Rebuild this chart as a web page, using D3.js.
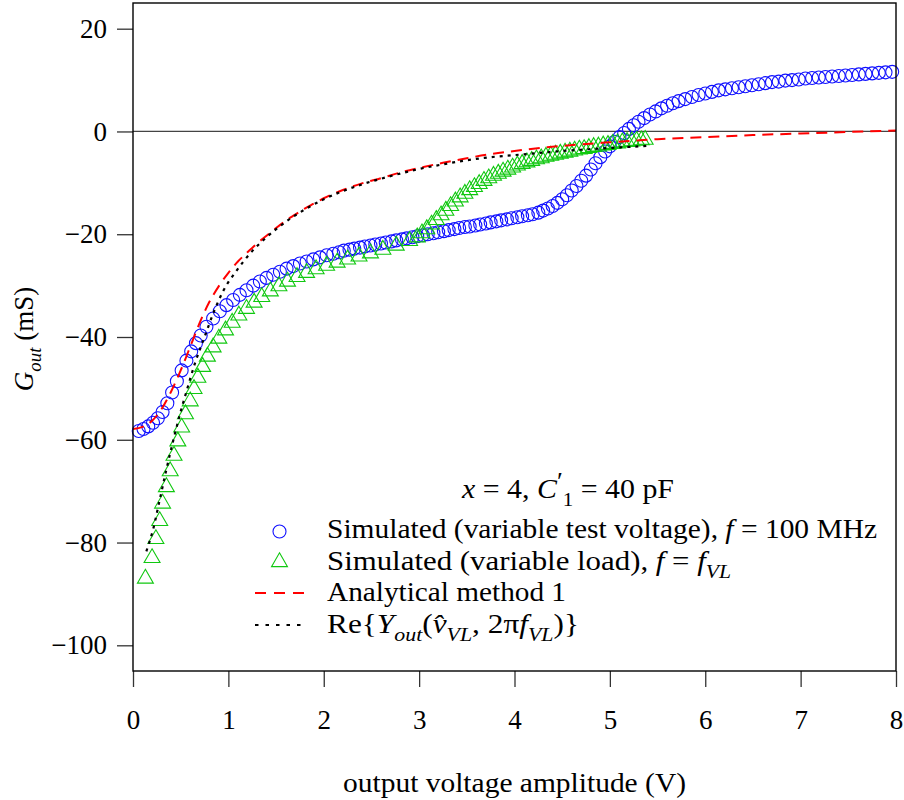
<!DOCTYPE html>
<html>
<head>
<meta charset="utf-8">
<script src="https://cdn.jsdelivr.net/npm/d3@7"></script>
<style>
  body { margin: 0; background: #fff; }
  text { font-family: "Liberation Serif", "DejaVu Serif", serif; fill: #000; }
</style>
</head>
<body>
<svg id="chart" width="904" height="800"></svg>
<script>
// DATA
// simulated, variable test voltage, f = 100 MHz
const blueV = [0.06,0.11,0.16,0.21,0.26,0.31,0.36,0.41,0.46,0.51,0.56,0.61,0.66,0.71,
  0.77,0.84,0.91,0.98,1.05,1.12,1.19,1.26,1.33,1.40,1.47,1.54,1.61,1.68,1.75,1.82,1.89,1.96,2.03,2.10,
  2.16,2.21,2.27,2.32,2.38,2.43,2.49,2.54,2.60,2.65,2.71,2.76,2.82,2.87,2.93,2.98,3.04,3.09,3.15,3.20,
  3.26,3.31,3.37,3.42,3.48,3.53,3.59,3.64,3.70,3.75,3.81,3.86,3.92,3.97,4.03,4.08,4.14,4.19,
  4.25,4.30,4.35,4.40,4.45,4.50,4.55,4.60,4.65,4.70,4.75,4.80,4.85,4.90,4.95,5.00,5.05,5.10,5.15,5.20,
  5.25,5.30,5.36,5.42,5.48,5.54,5.60,5.66,5.72,5.79,5.86,5.93,6.00,6.07,6.14,6.21,6.28,6.35,6.42,6.49,
  6.56,6.63,6.70,6.77,6.84,6.91,6.98,7.05,7.12,7.19,7.26,7.33,7.40,7.47,7.54,7.61,7.68,7.75,7.82,7.89,7.96];
const blueG = [-58.3,-57.9,-57.4,-56.7,-55.8,-54.6,-52.9,-50.8,-48.6,-46.5,-44.6,-42.8,-41.2,-39.7,
  -38.0,-36.4,-35.0,-33.8,-32.8,-31.8,-30.9,-30.0,-29.2,-28.5,-27.9,-27.3,-26.7,-26.2,-25.7,-25.3,-24.9,-24.5,-24.1,-23.8,
  -23.5,-23.2,-23.0,-22.8,-22.6,-22.4,-22.2,-22.0,-21.8,-21.6,-21.4,-21.2,-21.0,-20.8,-20.6,-20.4,-20.2,-20.0,-19.8,-19.6,
  -19.4,-19.2,-19.0,-18.8,-18.6,-18.5,-18.3,-18.1,-17.9,-17.7,-17.5,-17.3,-17.1,-16.9,-16.7,-16.5,-16.3,-16.1,
  -15.8,-15.4,-15.0,-14.5,-13.9,-13.2,-12.4,-11.5,-10.6,-9.6,-8.6,-7.4,-6.2,-5.0,-3.9,-2.9,-2.0,-1.1,-0.3,0.5,
  1.2,1.9,2.6,3.3,3.9,4.5,5.0,5.5,5.9,6.3,6.7,7.1,7.4,7.7,8.0,8.2,8.4,8.6,8.8,9.0,
  9.2,9.4,9.6,9.7,9.9,10.0,10.1,10.3,10.4,10.5,10.6,10.7,10.8,10.9,11.0,11.1,11.2,11.3,11.4,11.5,11.6];

// simulated, variable load, f = f_VL
const greenV = [0.13,0.20,0.24,0.28,0.31,0.35,0.39,0.43,0.47,0.51,0.55,0.60,0.64,0.68,0.73,0.78,0.84,0.90,0.97,
  1.04,1.11,1.19,1.27,1.35,1.44,1.53,1.62,1.72,1.82,1.92,2.03,2.14,2.25,2.37,2.49,2.62,2.76,2.90,
  2.98,3.03,3.08,3.13,3.18,3.23,3.28,3.33,3.38,3.43,3.48,3.53,3.58,3.63,3.68,3.73,3.78,3.83,3.88,3.93,3.98,
  4.03,4.08,4.13,4.18,4.23,4.28,4.33,4.38,4.43,4.48,4.53,4.58,4.63,4.68,4.73,4.78,4.83,4.88,4.93,4.98,
  5.03,5.08,5.13,5.18,5.23,5.28,5.33,5.37];
const greenG = [-87.0,-83.0,-79.3,-75.8,-72.4,-69.2,-66.1,-63.1,-60.3,-57.6,-55.0,-52.5,-50.1,-47.9,-45.8,-43.8,-42.0,-40.3,-38.7,
  -37.2,-35.8,-34.5,-33.3,-32.2,-31.1,-30.1,-29.2,-28.3,-27.5,-26.8,-26.1,-25.5,-24.9,-24.3,-23.7,-23.0,-22.2,-21.3,
  -20.6,-19.8,-19.0,-18.1,-17.2,-16.3,-15.4,-14.5,-13.6,-12.8,-12.1,-11.4,-10.8,-10.2,-9.6,-9.1,-8.6,-8.2,-7.8,-7.4,-7.0,
  -6.6,-6.3,-6.0,-5.7,-5.4,-5.2,-4.9,-4.7,-4.5,-4.3,-4.1,-3.9,-3.7,-3.5,-3.4,-3.2,-3.0,-2.9,-2.7,-2.6,
  -2.4,-2.3,-2.1,-2.0,-1.9,-1.8,-1.7,-1.6];

// analytical method 1
const redV = [0.00,0.10,0.20,0.30,0.40,0.50,0.60,0.70,0.80,0.90,1.00,1.10,1.20,1.30,1.40,1.50,1.60,1.70,1.80,1.90,
  2.00,2.20,2.40,2.60,2.80,3.00,3.25,3.50,3.75,4.00,4.50,5.00,5.50,6.00,6.50,7.00,7.50,8.00];
const redG = [-57.9,-57.5,-56.3,-54.0,-50.6,-46.5,-41.9,-37.2,-33.2,-30.1,-27.5,-25.3,-23.5,-21.8,-20.3,-18.8,-17.4,-16.2,-15.0,-14.0,
  -13.0,-11.4,-10.1,-9.1,-8.0,-7.1,-6.1,-5.2,-4.4,-3.8,-2.8,-2.1,-1.5,-1.1,-0.7,-0.4,-0.1,0.2];

// Re{Y_out(v_VL, 2 pi f_VL)}
const blackV = [0.14,0.21,0.28,0.35,0.42,0.49,0.57,0.65,0.75,0.85,0.95,1.09,1.23,1.40,1.60,1.80,2.00,2.20,2.40,2.60,
  2.80,3.00,3.25,3.50,3.75,4.00,4.25,4.50,4.75,5.00,5.20,5.40];
const blackG = [-81.7,-77.5,-71.7,-65.8,-60.3,-55.2,-50.0,-45.1,-40.0,-35.0,-30.9,-27.0,-23.7,-20.6,-17.6,-15.2,-13.2,-11.6,-10.3,-9.2,
  -8.2,-7.3,-6.4,-5.6,-5.0,-4.6,-4.2,-3.8,-3.5,-3.2,-3.0,-2.8];

const xTicks = [0,1,2,3,4,5,6,7,8];
const yTicks = [20,0,-20,-40,-60,-80,-100];

// UTILS
const zip = (a, b) => a.map((v, i) => [v, b[i]]);
const FS = 27;

// add text made of plain / italic / sub / sup parts
function rich(sel, parts) {
  let shift = 0;
  parts.forEach(p => {
    const ts = sel.append("tspan").text(p.t);
    const target = p.sub ? FS * 0.3 : p.sup ? -FS * 0.3 : 0;
    if (target !== shift) { ts.attr("dy", target - shift); shift = target; }
    if (p.dx) ts.attr("dx", p.dx);
    if (p.i) ts.attr("font-style", "italic");
    if (p.sub) ts.attr("font-size", FS * 0.7);
    if (p.sup) ts.attr("font-size", FS * 0.9);
  });
}

// RENDER
const svg = d3.select("#chart");
const x = d3.scaleLinear().domain([0, 8]).range([133, 896]);
const y = d3.scaleLinear().domain([-105, 25]).range([671, 3]);

// zero line
svg.append("line")
  .attr("x1", x(0)).attr("x2", x(8))
  .attr("y1", y(0)).attr("y2", y(0))
  .attr("stroke", "#444").attr("stroke-width", 1.2);

const tri = d3.symbol().type(d3.symbolTriangle).size(110);
const blue = "#1010ff", green = "#10c810", red = "#ff0000";

// blue circles
svg.append("g").selectAll("circle")
  .data(zip(blueV, blueG))
  .join("circle")
  .attr("cx", d => x(d[0])).attr("cy", d => y(d[1]))
  .attr("r", 6.5)
  .attr("fill", "none").attr("stroke", blue).attr("stroke-width", 1.1);

// green triangles
svg.append("g").selectAll("path")
  .data(zip(greenV, greenG))
  .join("path")
  .attr("transform", d => `translate(${x(d[0])},${y(d[1])})`)
  .attr("d", tri)
  .attr("fill", "none").attr("stroke", green).attr("stroke-width", 1.1);

const line = d3.line().x(d => x(d[0])).y(d => y(d[1])).curve(d3.curveMonotoneX);

svg.append("path")
  .attr("d", line(zip(redV, redG)))
  .attr("fill", "none").attr("stroke", red).attr("stroke-width", 2)
  .attr("stroke-dasharray", "11,7");

svg.append("path")
  .attr("d", line(zip(blackV, blackG)))
  .attr("fill", "none").attr("stroke", "#000").attr("stroke-width", 2.2)
  .attr("stroke-dasharray", "3,5");

// axes
const yAxis = svg.append("g")
  .attr("transform", `translate(${x(0)},0)`)
  .call(d3.axisLeft(y).tickValues(yTicks).tickSize(16).tickSizeOuter(0).tickPadding(10));
const xAxis = svg.append("g")
  .attr("transform", `translate(0,${y(-105)})`)
  .call(d3.axisBottom(x).tickValues(xTicks).tickSize(16).tickSizeOuter(0).tickPadding(23).tickFormat(d3.format("d")));
[xAxis, yAxis].forEach(a => {
  a.attr("font-family", null);
  a.select(".domain").remove();
  a.selectAll(".tick line").attr("stroke", "#333").attr("stroke-width", 1.3);
  a.selectAll(".tick text").attr("font-size", FS).attr("fill", "#000");
});

// frame
svg.append("rect")
  .attr("x", x(0)).attr("y", y(25))
  .attr("width", x(8) - x(0)).attr("height", y(-105) - y(25))
  .attr("fill", "none").attr("stroke", "#000").attr("stroke-width", 1.4);

// axis titles
svg.append("text")
  .attr("x", (x(0) + x(8)) / 2).attr("y", 792)
  .attr("text-anchor", "middle").attr("font-size", FS)
  .attr("textLength", 343).attr("lengthAdjust", "spacingAndGlyphs")
  .text("output voltage amplitude (V)");

const yl = svg.append("text")
  .attr("transform", "translate(33,339) rotate(-90)")
  .attr("text-anchor", "middle").attr("font-size", FS);
rich(yl, [{t: "G", i: true}, {t: "out", i: true, sub: true}, {t: " (mS)"}]);

// legend
const lg = svg.append("g");
const title = lg.append("text")
  .attr("x", 462).attr("y", 498).attr("font-size", FS)
  .attr("textLength", 212).attr("lengthAdjust", "spacingAndGlyphs");
rich(title, [{t: "x", i: true}, {t: " = 4, "}, {t: "C", i: true}, {t: "′", sup: true},
  {t: "1", sub: true}, {t: " = 40 pF"}]);

const entries = [
  {yb: 538, w: 550, parts: [{t: "Simulated (variable test voltage), "}, {t: "f", i: true}, {t: " = 100 MHz"}]},
  {yb: 570, w: 404, parts: [{t: "Simulated (variable load), "}, {t: "f", i: true}, {t: " = "}, {t: "f", i: true}, {t: "VL", i: true, sub: true}]},
  {yb: 601, w: 239, parts: [{t: "Analytical method 1"}]},
  {yb: 633, w: 252, parts: [{t: "Re{"}, {t: "Y", i: true}, {t: "out", i: true, sub: true}, {t: "("}, {t: "v\u0302", i: true},
    {t: "VL", i: true, sub: true}, {t: ", 2π"}, {t: "f", i: true}, {t: "VL", i: true, sub: true}, {t: ")}"}]}
];
entries.forEach(e => {
  const t = lg.append("text").attr("x", 327).attr("y", e.yb).attr("font-size", FS)
    .attr("textLength", e.w).attr("lengthAdjust", "spacingAndGlyphs");
  rich(t, e.parts);
});

lg.append("circle").attr("cx", 279.5).attr("cy", 531.5).attr("r", 6.5)
  .attr("fill", "none").attr("stroke", blue).attr("stroke-width", 1.1);
lg.append("path").attr("transform", "translate(279.5,562)").attr("d", tri)
  .attr("fill", "none").attr("stroke", green).attr("stroke-width", 1.1);
lg.append("line").attr("x1", 255).attr("x2", 304).attr("y1", 593).attr("y2", 593)
  .attr("stroke", red).attr("stroke-width", 2).attr("stroke-dasharray", "11,8");
lg.append("line").attr("x1", 255).attr("x2", 304).attr("y1", 625).attr("y2", 625)
  .attr("stroke", "#000").attr("stroke-width", 2.2).attr("stroke-dasharray", "3.5,7");
</script>
</body>
</html>
